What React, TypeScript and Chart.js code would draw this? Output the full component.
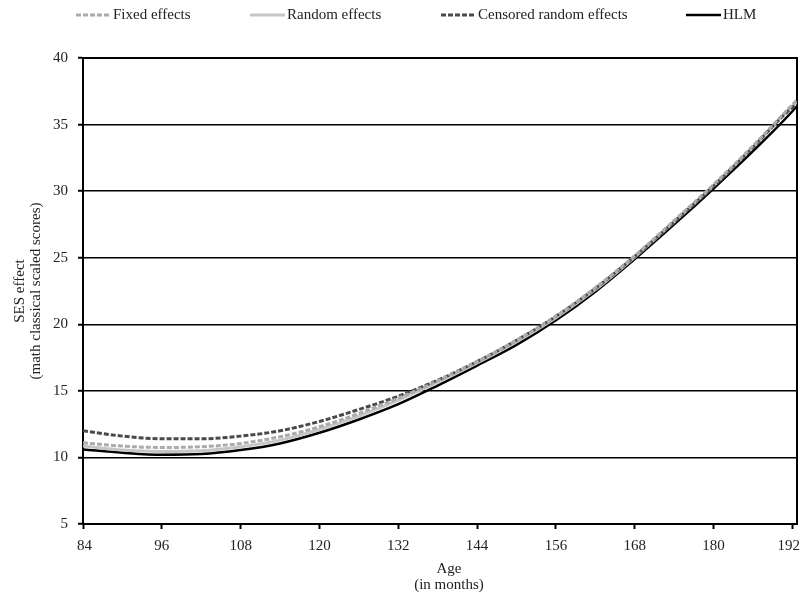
import React, { useEffect, useRef } from 'react';
import { Chart, registerables } from 'chart.js';

Chart.register(...registerables);

// ---- Data ----
const ages = [84, 90, 96, 102, 108, 114, 120, 126, 132, 138, 144, 150, 156, 162, 168, 174, 180, 186, 192, 192.6];
const fixedEffects = [11.1, 10.85, 10.75, 10.8, 11.05, 11.55, 12.3, 13.3, 14.45, 15.75, 17.2, 18.8, 20.6, 22.75, 25.15, 27.8, 30.5, 33.4, 36.5, 36.8];
const randomEffects = [10.85, 10.55, 10.45, 10.5, 10.8, 11.3, 12.1, 13.1, 14.3, 15.65, 17.1, 18.7, 20.5, 22.6, 25.05, 27.7, 30.4, 33.3, 36.4, 36.65];
const censoredEffects = [12.0, 11.6, 11.4, 11.4, 11.6, 12.0, 12.7, 13.6, 14.6, 15.8, 17.2, 18.8, 20.6, 22.7, 25.1, 27.7, 30.4, 33.3, 36.3, 36.5];
const hlmEffects = [10.6, 10.35, 10.2, 10.25, 10.55, 11.05, 11.85, 12.85, 14.0, 15.4, 16.9, 18.45, 20.3, 22.45, 24.9, 27.5, 30.2, 33.0, 36.0, 36.35];

const seriesLabels = ['Fixed effects', 'Random effects', 'Censored random effects', 'HLM'];
const xTickValues = [84, 96, 108, 120, 132, 144, 156, 168, 180, 192];
const yTickValues = [5, 10, 15, 20, 25, 30, 35, 40];
const xTitle = ['Age', '(in months)'];
const yTitle = ['SES effect', '(math classical scaled scores)'];

const FONT = '"Liberation Serif", "Times New Roman", Times, serif';
const TEXT = '#222';

const styles = [
  { color: '#ababab', width: 3, dash: [5, 2] },
  { color: '#c6c6c6', width: 3, dash: [] as number[] },
  { color: '#4a4a4a', width: 3, dash: [5, 2] },
  { color: '#000000', width: 2.5, dash: [] as number[] },
];
const legendX = [76, 250, 441, 686];

const toPoints = (ys: number[]) => ys.map((y, i) => ({ x: ages[i], y }));

export default function App() {
  const ref = useRef<HTMLCanvasElement | null>(null);

  useEffect(() => {
    if (!ref.current) return;
    const seriesData = [fixedEffects, randomEffects, censoredEffects, hlmEffects];
    const drawOrder = [0, 2, 1, 3];
    const datasets = seriesData.map((d, i) => ({
      label: seriesLabels[i],
      data: toPoints(d),
      borderColor: styles[i].color,
      backgroundColor: styles[i].color,
      borderWidth: styles[i].width,
      borderDash: styles[i].dash,
      pointRadius: 0,
      tension: 0.4,
      cubicInterpolationMode: 'monotone' as const,
      fill: false,
      order: drawOrder[i],
    }));

    const framePlugin = {
      id: 'frame',
      beforeDatasetsDraw(chart: any) {
        const { ctx, chartArea } = chart;
        ctx.save();
        ctx.strokeStyle = '#000';
        ctx.lineWidth = 2;
        ctx.setLineDash([]);
        ctx.strokeRect(chartArea.left, chartArea.top, chartArea.right - chartArea.left, chartArea.bottom - chartArea.top);
        ctx.restore();
      },
    };

    const textPlugin = {
      id: 'customText',
      afterDraw(chart: any) {
        const { ctx } = chart;
        ctx.save();
        ctx.font = '15px ' + FONT;
        ctx.fillStyle = TEXT;
        // legend
        const y = 15;
        seriesLabels.forEach((label, i) => {
          const x = legendX[i];
          ctx.strokeStyle = styles[i].color;
          ctx.lineWidth = styles[i].width;
          ctx.setLineDash(styles[i].dash);
          ctx.beginPath();
          ctx.moveTo(x, y);
          ctx.lineTo(x + 35, y);
          ctx.stroke();
          ctx.setLineDash([]);
          ctx.textAlign = 'left';
          ctx.textBaseline = 'middle';
          ctx.fillText(label, x + 37, y);
        });
        // x axis title
        ctx.textAlign = 'center';
        ctx.textBaseline = 'middle';
        ctx.fillText(xTitle[0], 449, 569);
        ctx.fillText(xTitle[1], 449, 585);
        ctx.restore();
      },
    };

    const chart = new Chart(ref.current, {
      type: 'line',
      data: { datasets },
      options: {
        animation: false,
        responsive: true,
        maintainAspectRatio: false,
        layout: { padding: { left: 0, top: 58, right: 5, bottom: 0 } },
        plugins: {
          legend: { display: false },
          tooltip: { enabled: false },
        },
        scales: {
          x: {
            type: 'linear',
            min: 84,
            max: 192.7,
            afterBuildTicks: (s: any) => {
              s.ticks = xTickValues.map((v) => ({ value: v }));
            },
            afterFit: (s: any) => {
              s.height = 72;
              s.paddingLeft = 0;
              s.paddingRight = 0;
            },
            grid: {
              drawOnChartArea: false,
              drawTicks: true,
              tickLength: 5,
              tickColor: '#000',
              tickWidth: 2,
            },
            border: { display: true, color: '#000', width: 2 },
            ticks: {
              color: TEXT,
              font: { family: FONT, size: 15 },
              padding: 8,
              maxRotation: 0,
              autoSkip: false,
              callback: (v: any) => (v === 192 ? '192\u2002' : v === 84 ? '\u200984' : String(v)),
            },
            title: { display: false },
          },
          y: {
            type: 'linear',
            min: 5,
            max: 40,
            afterBuildTicks: (s: any) => {
              s.ticks = yTickValues.map((v) => ({ value: v }));
            },
            afterFit: (s: any) => {
              s.width = 83;
              s.paddingTop = 0;
              s.paddingBottom = 0;
            },
            grid: {
              color: '#000',
              lineWidth: 1.5,
              borderDash: [2, 1],
              drawTicks: true,
              tickLength: 5,
              tickColor: '#000',
              tickWidth: 2,
              tickBorderDash: [],
            },
            border: { display: true, color: '#000', width: 2 },
            ticks: {
              color: TEXT,
              font: { family: FONT, size: 15 },
              padding: 10,
            },
            title: {
              display: true,
              text: yTitle,
              color: TEXT,
              font: { family: FONT, size: 15, lineHeight: 1.07 },
              padding: { top: 12, bottom: 0 },
            },
          },
        },
      },
      plugins: [framePlugin, textPlugin],
    } as any);

    return () => chart.destroy();
  }, []);

  return (
    <div style={{ position: 'absolute', left: 0, top: 0, width: 802, height: 596 }}>
      <canvas ref={ref} />
    </div>
  );
}
